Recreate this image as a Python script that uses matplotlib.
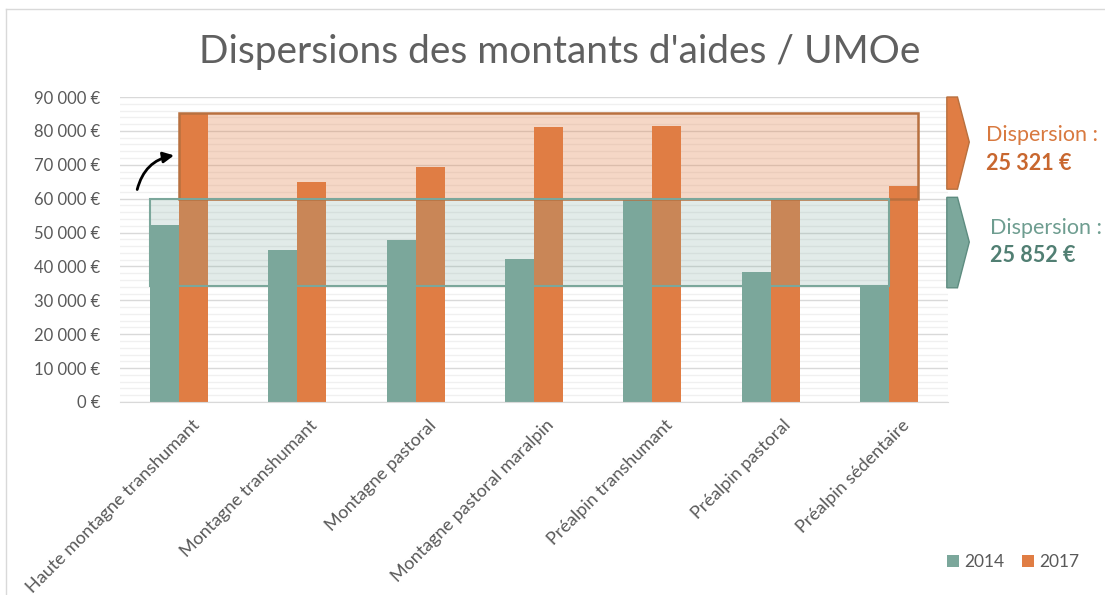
import matplotlib
matplotlib.use("Agg")
import matplotlib.pyplot as plt
import matplotlib.transforms as mtransforms
from matplotlib.patches import Rectangle, Polygon
from matplotlib.lines import Line2D
from matplotlib.ticker import MultipleLocator, FuncFormatter
import numpy as np

categories = ["Haute montagne transhumant", "Montagne transhumant", "Montagne pastoral",
              "Montagne pastoral maralpin", "Préalpin transhumant", "Préalpin pastoral",
              "Préalpin sédentaire"]
v2014 = [52200, 44900, 47800, 42300, 60000, 38300, 34148]
v2017 = [85321, 64900, 69300, 81100, 81300, 60000, 63700]
series_names = ["2014", "2017"]
title = "Dispersions des montants d'aides / UMOe"
disp_label = "Dispersion :"
disp_2017 = "25 321 €"
disp_2014 = "25 852 €"

TEAL = "#7BA79B"
ORANGE = "#E07D44"
GRAY = "#595959"

plt.rcParams['font.family'] = ['Lato', 'DejaVu Sans']

W, H = 1105, 595
fig = plt.figure(figsize=(W / 100, H / 100), dpi=100)
ax = fig.add_axes([120 / W, 1 - 402 / H, (948 - 120) / W, (402 - 97) / H])

x = np.arange(len(categories))
bw = 0.245
ax.bar(x - bw / 2, v2014, bw, color=TEAL, zorder=2, label=series_names[0])
ax.bar(x + bw / 2, v2017, bw, color=ORANGE, zorder=2, label=series_names[1])

ax.set_xlim(-0.5, len(categories) - 0.5)
ax.set_ylim(0, 90000)
ax.yaxis.set_major_locator(MultipleLocator(10000))
ax.yaxis.set_minor_locator(MultipleLocator(2000))
ax.grid(axis='y', which='major', color='#D9D9D9', lw=1.0, zorder=0)
ax.grid(axis='y', which='minor', color='#F0F0F0', lw=1.0, zorder=0)
ax.set_axisbelow(True)
for s in ['top', 'right', 'left']:
    ax.spines[s].set_visible(False)
ax.spines['bottom'].set_color('#D9D9D9')
ax.tick_params(axis='both', which='both', length=0, colors=GRAY)
ax.yaxis.set_major_formatter(FuncFormatter(lambda v, p: f"{int(v):,} €".replace(",", " ")))
ax.tick_params(axis='y', labelsize=12, pad=14)
ax.set_xticks(x)
ax.set_xticklabels(categories, rotation=45, ha='right', rotation_mode='anchor', fontsize=13, color=GRAY)
off = mtransforms.ScaledTranslation(12 / 100, -10 / 100, fig.dpi_scale_trans)
for lab in ax.get_xticklabels():
    lab.set_transform(lab.get_transform() + off)

# dispersion boxes
lo14, hi14 = min(v2014), max(v2014)
lo17, hi17 = min(v2017), max(v2017)
n = len(categories)
ax.add_patch(Rectangle((0, lo17), (n - 1) + bw, hi17 - lo17, facecolor=ORANGE, alpha=0.3,
                       edgecolor='none', zorder=3))
ax.add_patch(Rectangle((0, lo17), (n - 1) + bw, hi17 - lo17, facecolor='none',
                       edgecolor='#B8703F', lw=1.8, zorder=4))
ax.add_patch(Rectangle((-bw, lo14), (n - 1) + bw, hi14 - lo14, facecolor=TEAL, alpha=0.22,
                       edgecolor='none', zorder=3))
ax.add_patch(Rectangle((-bw, lo14), (n - 1) + bw, hi14 - lo14, facecolor='none',
                       edgecolor=TEAL, lw=1.5, zorder=4))

# chevrons on the right
ax.add_patch(Polygon([(6.49, 90000), (6.58, 90000), (6.68, 76700), (6.58, 62800), (6.49, 62800)],
                     closed=True, facecolor=ORANGE, edgecolor='#B8703F', lw=1, clip_on=False, zorder=5))
ax.add_patch(Polygon([(6.49, 60400), (6.58, 60400), (6.68, 47200), (6.58, 33700), (6.49, 33700)],
                     closed=True, facecolor=TEAL, edgecolor='#5E8C80', lw=1, clip_on=False, zorder=5))

# curved arrow
ax.annotate("", xy=(-0.02, 72900), xytext=(-0.36, 61900),
            arrowprops=dict(arrowstyle='-|>', color='black', lw=2,
                            connectionstyle='arc3,rad=-0.35', mutation_scale=16),
            zorder=6, annotation_clip=False)

# texts
fig.text(560 / W, 1 - 52 / H, title, ha='center', va='center', fontsize=28, color='#606060',
         fontweight='normal')
fig.text(986 / W, 1 - 135 / H, disp_label, ha='left', va='center', fontsize=15.5, color='#D8793F')
fig.text(986 / W, 1 - 163 / H, disp_2017, ha='left', va='center', fontsize=15.5, color='#C8672F',
         fontweight='bold')
fig.text(990 / W, 1 - 228 / H, disp_label, ha='left', va='center', fontsize=15.5, color='#6E9D90')
fig.text(990 / W, 1 - 256 / H, disp_2014, ha='left', va='center', fontsize=15.5, color='#517F73',
         fontweight='bold')

leg = fig.legend(loc='center', bbox_to_anchor=(1013 / W, 1 - 562 / H), ncol=2, frameon=False,
                 handlelength=0.7, handleheight=0.7, handletextpad=0.3, columnspacing=1.0,
                 fontsize=12.5, labelcolor=GRAY)

# chart border
fig.add_artist(Line2D([6 / W, 6 / W], [0, 1 - 9 / H], color='#D9D9D9', lw=1))
fig.add_artist(Line2D([6 / W, 1], [1 - 9 / H, 1 - 9 / H], color='#D9D9D9', lw=1))

fig.savefig("out.png", dpi=100)
